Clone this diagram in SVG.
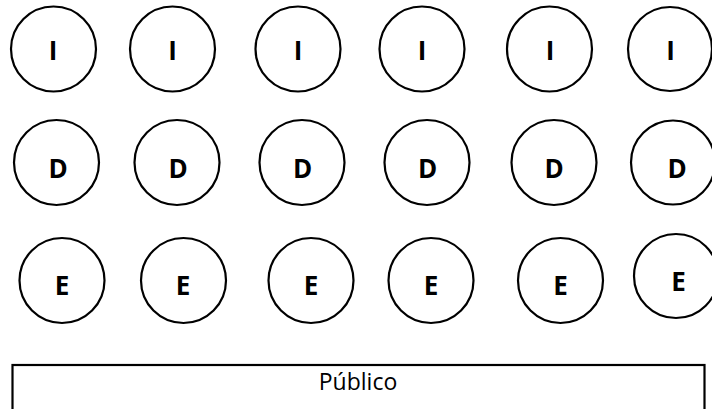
<svg xmlns="http://www.w3.org/2000/svg" width="712" height="409" viewBox="0 0 712 409">
<style>
.n{fill:#fff;stroke:#000;stroke-width:2.2}
.l{font-family:"Open Sans","Liberation Sans",sans-serif;font-weight:bold;font-size:26px;fill:#000;text-anchor:middle}
.p{font-family:"Open Sans","Liberation Sans",sans-serif;font-size:23px;fill:#000;text-anchor:middle}
</style>
<rect width="712" height="409" fill="#fff"/>
<g id="connectors"/>
<g id="i1"><circle class="n" cx="53.5" cy="49" r="42.5"/><text class="l" x="53" y="60">I</text></g>
<g id="i2"><circle class="n" cx="172.5" cy="49" r="42.5"/><text class="l" x="172.5" y="60">I</text></g>
<g id="i3"><circle class="n" cx="298" cy="49" r="42.5"/><text class="l" x="298" y="60">I</text></g>
<g id="i4"><circle class="n" cx="422" cy="49" r="42.5"/><text class="l" x="422" y="60">I</text></g>
<g id="i5"><circle class="n" cx="549.5" cy="49" r="42.5"/><text class="l" x="550" y="60">I</text></g>
<g id="i6"><circle class="n" cx="670" cy="49" r="42"/><text class="l" x="670.5" y="60">I</text></g>
<g id="d1"><circle class="n" cx="56.5" cy="162.5" r="42.5"/><text class="l" x="58" y="177.5">D</text></g>
<g id="d2"><circle class="n" cx="177" cy="162.5" r="42.5"/><text class="l" x="178" y="177.5">D</text></g>
<g id="d3"><circle class="n" cx="302" cy="162.5" r="42.5"/><text class="l" x="302.5" y="177.5">D</text></g>
<g id="d4"><circle class="n" cx="427" cy="162.5" r="42.5"/><text class="l" x="427.5" y="177.5">D</text></g>
<g id="d5"><circle class="n" cx="554" cy="162.5" r="42.5"/><text class="l" x="554" y="177.5">D</text></g>
<g id="d6"><circle class="n" cx="673" cy="162.5" r="42"/><text class="l" x="677" y="177.5">D</text></g>
<g id="e1"><circle class="n" cx="62" cy="280.5" r="42.5"/><text class="l" x="62" y="295">E</text></g>
<g id="e2"><circle class="n" cx="183.5" cy="280.5" r="42.5"/><text class="l" x="183" y="295">E</text></g>
<g id="e3"><circle class="n" cx="311" cy="280.5" r="42.5"/><text class="l" x="311" y="295">E</text></g>
<g id="e4"><circle class="n" cx="431" cy="280.5" r="42.5"/><text class="l" x="431" y="295">E</text></g>
<g id="e5"><circle class="n" cx="560.5" cy="280.5" r="42.5"/><text class="l" x="560.5" y="295">E</text></g>
<g id="e6"><circle class="n" cx="676" cy="276" r="42"/><text class="l" x="678.5" y="291">E</text></g>
<g id="publico"><rect class="n" x="12.5" y="365" width="692" height="60"/><text class="p" x="358" y="390">Público</text></g>
</svg>
